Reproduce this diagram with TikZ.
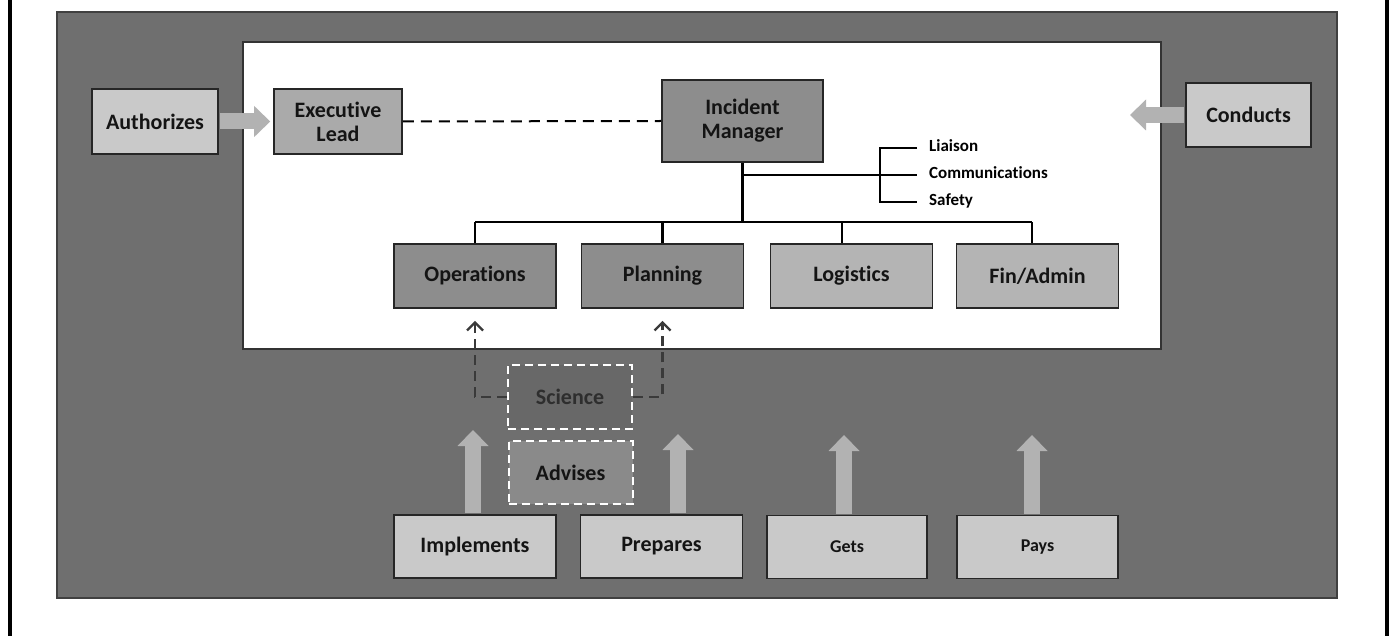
\documentclass[tikz,border=0pt]{standalone}
\usepackage{fontspec}
\setmainfont{Carlito}[Ligatures=NoCommon]
\usepackage{tikz}
\usetikzlibrary{arrows.meta}
\definecolor{panelGray}{RGB}{111, 111, 111}
\definecolor{actorGray}{RGB}{201, 201, 201}
\definecolor{leadGray}{RGB}{170, 170, 170}
\definecolor{coreGray}{RGB}{141, 141, 141}
\definecolor{sideGray}{RGB}{180, 180, 180}
\definecolor{arrowGray}{RGB}{178, 178, 178}
\definecolor{scienceGray}{RGB}{104, 104, 104}
\definecolor{adviseGray}{RGB}{138, 138, 138}
\definecolor{dashGray}{RGB}{58, 58, 58}

\begin{document}
\begin{tikzpicture}[x=1pt, y=-1pt,
    box/.style={draw=black!85, line width=1.6pt, inner sep=0pt, align=center,
        text=black!92, font=\fontsize{22}{24}\selectfont\bfseries},
    actor/.style={box, fill=actorGray, minimum width=126pt, minimum height=65pt},
    section/.style={box, minimum width=162pt, minimum height=64pt},
    ghost/.style={box, draw=white, line width=2pt, dash pattern=on 8pt off 5pt,
        minimum width=124pt, minimum height=63pt},
    staff/.style={anchor=west, inner xsep=12pt, inner ysep=0pt, text height=11pt,
        text depth=3pt, font=\fontsize{17}{19}\selectfont\bfseries},
    tree/.style={line width=2.6pt, black},
    bigarrow/.style={line width=16pt, draw=arrowGray,
        -{Triangle[width=31pt, length=16pt, line width=0pt]}},
    advice/.style={line width=2.4pt, draw=dashGray, dash pattern=on 10pt off 6pt,
        -{Straight Barb[width=16pt, length=8pt]}}
]
    % page and panels
    \fill[white] (0,0) rectangle (1393,636);
    \useasboundingbox (0,0) rectangle (1393,636);
    \draw[line width=3.5pt] (10,0) -- (10,636);
    \draw[line width=3.5pt] (1387,0) -- (1387,636);
    \draw[fill=panelGray, draw=black!75, line width=1.2pt] (57,12) rectangle (1337,598);
    \draw[fill=white, draw=black!80, line width=1.6pt] (243,42) rectangle (1161,349);

    % top row
    \node[actor] (auth) at (155,121.5) {Authorizes};
    \node[box, fill=leadGray, minimum width=128pt, minimum height=65pt] (lead) at (338,121.5) {Executive\\Lead};
    \node[box, fill=coreGray, minimum width=161pt, minimum height=82pt] (im) at (742.5,121) {Incident\\Manager};
    \node[actor, minimum width=125pt, minimum height=64pt] (cond) at (1248.5,115) {Conducts};

    % sections
    \node[section, fill=coreGray] (ops) at (475,276) {Operations};
    \node[section, fill=coreGray] (plan) at (662.5,276) {Planning};
    \node[section, fill=sideGray] (log) at (851.5,276) {Logistics};
    \node[section, fill=sideGray] (fin) at (1037.5,276) {Fin/Admin};

    % command staff
    \node[staff] (liaison) at (917,148) {Liaison};
    \node[staff] (comms) at (917,175) {Communications};
    \node[staff] (safety) at (917,202) {Safety};

    % science and advice
    \node[ghost, fill=scienceGray, text=black!82] (sci) at (570,397) {Science};
    \node[ghost, fill=adviseGray] (adv) at (570.5,472.5) {Advises};

    % bottom row
    \node[section, fill=actorGray, minimum height=63pt] (impl) at (475,546.5) {Implements};
    \node[section, fill=actorGray, minimum height=63pt] (prep) at (661.5,546.5) {Prepares};
    \node[section, fill=actorGray, minimum width=160pt, minimum height=63pt,
        font=\fontsize{18}{20}\selectfont\bfseries] (gets) at (847,547) {Gets};
    \node[section, fill=actorGray, minimum width=161pt, minimum height=63pt,
        font=\fontsize{18}{20}\selectfont\bfseries] (pays) at (1037.5,547) {Pays};

    % helper points
    \coordinate (bus) at (0,222);
    \coordinate (brk) at (880,175);
    \coordinate (logdrop) at ([xshift=-9.5pt]log.north);
    \coordinate (findrop) at ([xshift=-5.5pt]fin.north);
    \coordinate (condtip) at (1130,115);
    \coordinate (impltip) at (473,430);
    \coordinate (preptip) at (678,434);
    \coordinate (getstip) at (844,435);
    \coordinate (paystip) at (1032,435);

    % organisation tree
    \draw[line width=2pt, dash pattern=on 11pt off 7pt] (lead.east) -- (im.west);
    \draw[tree] (im.south) -- (im.south |- bus);
    \draw[tree] (ops.north |- bus) -- (findrop |- bus);
    \foreach \n in {ops, plan}
        \draw[tree] (\n.north) -- (\n.north |- bus);
    \foreach \n in {logdrop, findrop}
        \draw[tree] (\n) -- (\n |- bus);
    \draw[tree] (im.south |- brk) -- (comms.west);
    \draw[tree] (liaison.west) -| (brk) |- (safety.west);

    % block arrows
    \draw[bigarrow, shorten <=0.8pt, shorten >=3pt] (auth.east) -- (lead.west);
    \draw[bigarrow, shorten <=0.8pt] (cond.west) -- (condtip);
    \draw[bigarrow, shorten <=0.8pt] (impl.north -| impltip) -- (impltip);
    \draw[bigarrow, shorten <=0.8pt] (prep.north -| preptip) -- (preptip);
    \draw[bigarrow, shorten <=0.8pt] (gets.north -| getstip) -- (getstip);
    \draw[bigarrow, shorten <=0.8pt] (pays.north -| paystip) -- (paystip);

    % science advice
    \draw[advice, shorten >=12pt] (sci.west) -| (ops.south);
    \draw[advice, shorten >=12pt] (sci.east) -| (plan.south);
\end{tikzpicture}
\end{document}
